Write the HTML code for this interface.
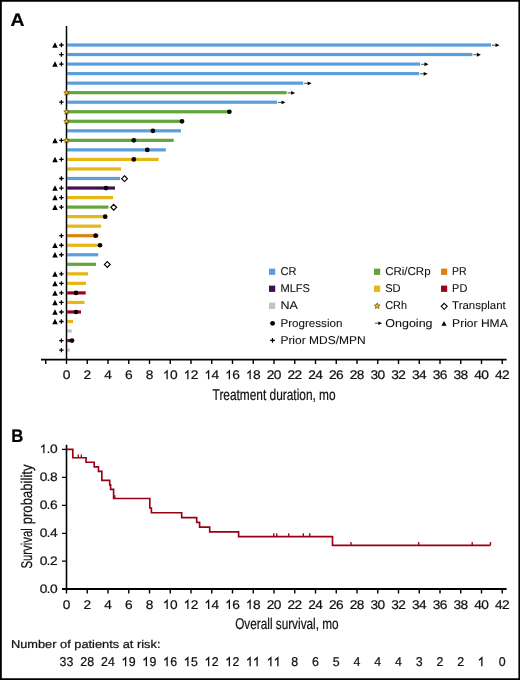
<!DOCTYPE html>
<html><head><meta charset="utf-8"><title>Figure</title>
<style>
html,body{margin:0;padding:0;background:#fff;}
body{width:520px;height:680px;overflow:hidden;font-family:"Liberation Sans",sans-serif;}
svg{display:block;will-change:transform;text-rendering:geometricPrecision;}
text{stroke:#111;stroke-width:0.22px;}
</style></head><body>
<svg width="520" height="680" viewBox="0 0 520 680" font-family="Liberation Sans, sans-serif">
<rect x="0" y="0" width="520" height="680" fill="#fff"/>
<text x="10.4" y="25.8" font-size="18.2" font-weight="bold" fill="#000" textLength="14.0" lengthAdjust="spacingAndGlyphs">A</text>
<text x="11.2" y="442.4" font-size="18.2" font-weight="bold" fill="#000" textLength="12.1" lengthAdjust="spacingAndGlyphs">B</text>
<rect x="67.20" y="43.40" width="423.80" height="3.20" fill="#5A9FDB"/>
<rect x="67.20" y="52.93" width="405.20" height="3.20" fill="#5A9FDB"/>
<rect x="67.20" y="62.47" width="352.80" height="3.20" fill="#5A9FDB"/>
<rect x="67.20" y="72.01" width="352.00" height="3.20" fill="#5A9FDB"/>
<rect x="67.20" y="81.54" width="236.00" height="3.20" fill="#5A9FDB"/>
<rect x="67.20" y="91.08" width="219.40" height="3.20" fill="#62A53A"/>
<rect x="67.20" y="100.61" width="209.80" height="3.20" fill="#5A9FDB"/>
<rect x="67.20" y="110.15" width="161.30" height="3.20" fill="#62A53A"/>
<rect x="67.20" y="119.68" width="114.30" height="3.20" fill="#62A53A"/>
<rect x="67.20" y="129.22" width="113.80" height="3.20" fill="#5A9FDB"/>
<rect x="67.20" y="138.75" width="106.50" height="3.20" fill="#62A53A"/>
<rect x="67.20" y="148.28" width="98.60" height="3.20" fill="#5A9FDB"/>
<rect x="67.20" y="157.82" width="91.40" height="3.20" fill="#E7B716"/>
<rect x="67.20" y="167.35" width="53.80" height="3.20" fill="#E7B716"/>
<rect x="67.20" y="176.89" width="52.80" height="3.20" fill="#5A9FDB"/>
<rect x="67.20" y="186.43" width="47.80" height="3.20" fill="#40104F"/>
<rect x="67.20" y="195.96" width="45.80" height="3.20" fill="#E7B716"/>
<rect x="67.20" y="205.50" width="41.30" height="3.20" fill="#62A53A"/>
<rect x="67.20" y="215.03" width="37.30" height="3.20" fill="#E7B716"/>
<rect x="67.20" y="224.56" width="33.80" height="3.20" fill="#E7B716"/>
<rect x="67.20" y="234.10" width="31.30" height="3.20" fill="#D8840F"/>
<rect x="67.20" y="243.64" width="32.30" height="3.20" fill="#E7B716"/>
<rect x="67.20" y="253.17" width="31.00" height="3.20" fill="#5A9FDB"/>
<rect x="67.20" y="262.70" width="28.80" height="3.20" fill="#62A53A"/>
<rect x="67.20" y="272.24" width="20.80" height="3.20" fill="#E7B716"/>
<rect x="67.20" y="281.77" width="18.80" height="3.20" fill="#E7B716"/>
<rect x="67.20" y="291.31" width="18.50" height="3.20" fill="#A0001F"/>
<rect x="67.20" y="300.84" width="17.30" height="3.20" fill="#E7B716"/>
<rect x="67.20" y="310.38" width="13.80" height="3.20" fill="#A0001F"/>
<rect x="67.20" y="319.91" width="5.80" height="3.20" fill="#E7B716"/>
<rect x="67.20" y="329.45" width="4.70" height="3.20" fill="#C4C2C8"/>
<rect x="67.20" y="338.98" width="2.80" height="3.20" fill="#A0001F"/>
<rect x="67.20" y="348.52" width="2.60" height="3.20" fill="#C4C2C8"/>
<path d="M66.5 26V359.65" stroke="#000" stroke-width="1.5"/>
<path d="M41 359.65H506.6" stroke="#000" stroke-width="1.8"/>
<path d="M45.75 359.65V364.1M66.50 359.65V364.1M87.25 359.65V364.1M108.00 359.65V364.1M128.75 359.65V364.1M149.50 359.65V364.1M170.25 359.65V364.1M191.00 359.65V364.1M211.75 359.65V364.1M232.50 359.65V364.1M253.25 359.65V364.1M274.00 359.65V364.1M294.75 359.65V364.1M315.50 359.65V364.1M336.25 359.65V364.1M357.00 359.65V364.1M377.75 359.65V364.1M398.50 359.65V364.1M419.25 359.65V364.1M440.00 359.65V364.1M460.75 359.65V364.1M481.50 359.65V364.1M502.25 359.65V364.1" stroke="#000" stroke-width="1.4"/>
<text x="66.50" y="379.30" font-size="12.5" text-anchor="middle" fill="#111" textLength="7.65" lengthAdjust="spacingAndGlyphs">0</text>
<text x="87.25" y="379.30" font-size="12.5" text-anchor="middle" fill="#111" textLength="7.65" lengthAdjust="spacingAndGlyphs">2</text>
<text x="108.00" y="379.30" font-size="12.5" text-anchor="middle" fill="#111" textLength="7.65" lengthAdjust="spacingAndGlyphs">4</text>
<text x="128.75" y="379.30" font-size="12.5" text-anchor="middle" fill="#111" textLength="7.65" lengthAdjust="spacingAndGlyphs">6</text>
<text x="149.50" y="379.30" font-size="12.5" text-anchor="middle" fill="#111" textLength="7.65" lengthAdjust="spacingAndGlyphs">8</text>
<path d="M164.30 373.38L167.11 370.98V379.30" fill="none" stroke="#111" stroke-width="1.27" stroke-linejoin="miter"/><text x="173.75" y="379.30" font-size="12.5" text-anchor="middle" fill="#111" textLength="7.65" lengthAdjust="spacingAndGlyphs">0</text>
<path d="M185.05 373.38L187.86 370.98V379.30" fill="none" stroke="#111" stroke-width="1.27" stroke-linejoin="miter"/><text x="194.50" y="379.30" font-size="12.5" text-anchor="middle" fill="#111" textLength="7.65" lengthAdjust="spacingAndGlyphs">2</text>
<path d="M205.80 373.38L208.61 370.98V379.30" fill="none" stroke="#111" stroke-width="1.27" stroke-linejoin="miter"/><text x="215.25" y="379.30" font-size="12.5" text-anchor="middle" fill="#111" textLength="7.65" lengthAdjust="spacingAndGlyphs">4</text>
<path d="M226.55 373.38L229.36 370.98V379.30" fill="none" stroke="#111" stroke-width="1.27" stroke-linejoin="miter"/><text x="236.00" y="379.30" font-size="12.5" text-anchor="middle" fill="#111" textLength="7.65" lengthAdjust="spacingAndGlyphs">6</text>
<path d="M247.30 373.38L250.11 370.98V379.30" fill="none" stroke="#111" stroke-width="1.27" stroke-linejoin="miter"/><text x="256.75" y="379.30" font-size="12.5" text-anchor="middle" fill="#111" textLength="7.65" lengthAdjust="spacingAndGlyphs">8</text>
<text x="270.50" y="379.30" font-size="12.5" text-anchor="middle" fill="#111" textLength="7.65" lengthAdjust="spacingAndGlyphs">2</text><text x="277.50" y="379.30" font-size="12.5" text-anchor="middle" fill="#111" textLength="7.65" lengthAdjust="spacingAndGlyphs">0</text>
<text x="291.25" y="379.30" font-size="12.5" text-anchor="middle" fill="#111" textLength="7.65" lengthAdjust="spacingAndGlyphs">2</text><text x="298.25" y="379.30" font-size="12.5" text-anchor="middle" fill="#111" textLength="7.65" lengthAdjust="spacingAndGlyphs">2</text>
<text x="312.00" y="379.30" font-size="12.5" text-anchor="middle" fill="#111" textLength="7.65" lengthAdjust="spacingAndGlyphs">2</text><text x="319.00" y="379.30" font-size="12.5" text-anchor="middle" fill="#111" textLength="7.65" lengthAdjust="spacingAndGlyphs">4</text>
<text x="332.75" y="379.30" font-size="12.5" text-anchor="middle" fill="#111" textLength="7.65" lengthAdjust="spacingAndGlyphs">2</text><text x="339.75" y="379.30" font-size="12.5" text-anchor="middle" fill="#111" textLength="7.65" lengthAdjust="spacingAndGlyphs">6</text>
<text x="353.50" y="379.30" font-size="12.5" text-anchor="middle" fill="#111" textLength="7.65" lengthAdjust="spacingAndGlyphs">2</text><text x="360.50" y="379.30" font-size="12.5" text-anchor="middle" fill="#111" textLength="7.65" lengthAdjust="spacingAndGlyphs">8</text>
<text x="374.25" y="379.30" font-size="12.5" text-anchor="middle" fill="#111" textLength="7.65" lengthAdjust="spacingAndGlyphs">3</text><text x="381.25" y="379.30" font-size="12.5" text-anchor="middle" fill="#111" textLength="7.65" lengthAdjust="spacingAndGlyphs">0</text>
<text x="395.00" y="379.30" font-size="12.5" text-anchor="middle" fill="#111" textLength="7.65" lengthAdjust="spacingAndGlyphs">3</text><text x="402.00" y="379.30" font-size="12.5" text-anchor="middle" fill="#111" textLength="7.65" lengthAdjust="spacingAndGlyphs">2</text>
<text x="415.75" y="379.30" font-size="12.5" text-anchor="middle" fill="#111" textLength="7.65" lengthAdjust="spacingAndGlyphs">3</text><text x="422.75" y="379.30" font-size="12.5" text-anchor="middle" fill="#111" textLength="7.65" lengthAdjust="spacingAndGlyphs">4</text>
<text x="436.50" y="379.30" font-size="12.5" text-anchor="middle" fill="#111" textLength="7.65" lengthAdjust="spacingAndGlyphs">3</text><text x="443.50" y="379.30" font-size="12.5" text-anchor="middle" fill="#111" textLength="7.65" lengthAdjust="spacingAndGlyphs">6</text>
<text x="457.25" y="379.30" font-size="12.5" text-anchor="middle" fill="#111" textLength="7.65" lengthAdjust="spacingAndGlyphs">3</text><text x="464.25" y="379.30" font-size="12.5" text-anchor="middle" fill="#111" textLength="7.65" lengthAdjust="spacingAndGlyphs">8</text>
<text x="478.00" y="379.30" font-size="12.5" text-anchor="middle" fill="#111" textLength="7.65" lengthAdjust="spacingAndGlyphs">4</text><text x="485.00" y="379.30" font-size="12.5" text-anchor="middle" fill="#111" textLength="7.65" lengthAdjust="spacingAndGlyphs">0</text>
<text x="498.75" y="379.30" font-size="12.5" text-anchor="middle" fill="#111" textLength="7.65" lengthAdjust="spacingAndGlyphs">4</text><text x="505.75" y="379.30" font-size="12.5" text-anchor="middle" fill="#111" textLength="7.65" lengthAdjust="spacingAndGlyphs">2</text>
<text x="212.6" y="399.8" font-size="15.5" fill="#111" textLength="123" lengthAdjust="spacingAndGlyphs">Treatment duration, mo</text>
<path d="M491.90 45.20H496.00" stroke="#333" stroke-width="0.85"/><polygon points="495.50,43.30 499.50,45.20 495.50,47.10" fill="#000"/>
<path d="M59.20 45.00H63.60M61.40 42.80V47.20" stroke="#000" stroke-width="1.3"/>
<polygon points="52.25,47.80 57.75,47.80 55.00,42.30" fill="#000"/>
<path d="M473.30 54.73H477.40" stroke="#333" stroke-width="0.85"/><polygon points="476.90,52.84 480.90,54.73 476.90,56.63" fill="#000"/>
<path d="M59.20 54.53H63.60M61.40 52.33V56.73" stroke="#000" stroke-width="1.3"/>
<path d="M420.90 64.27H425.00" stroke="#333" stroke-width="0.85"/><polygon points="424.50,62.37 428.50,64.27 424.50,66.17" fill="#000"/>
<path d="M59.20 64.07H63.60M61.40 61.87V66.27" stroke="#000" stroke-width="1.3"/>
<polygon points="52.25,66.87 57.75,66.87 55.00,61.37" fill="#000"/>
<path d="M420.10 73.81H424.20" stroke="#333" stroke-width="0.85"/><polygon points="423.70,71.91 427.70,73.81 423.70,75.71" fill="#000"/>
<path d="M304.10 83.34H308.20" stroke="#333" stroke-width="0.85"/><polygon points="307.70,81.44 311.70,83.34 307.70,85.24" fill="#000"/>
<path d="M287.50 92.88H291.60" stroke="#333" stroke-width="0.85"/><polygon points="291.10,90.97 295.10,92.88 291.10,94.78" fill="#000"/>
<polygon points="66.50,90.08 67.24,91.86 69.16,92.01 67.70,93.26 68.15,95.14 66.50,94.14 64.85,95.14 65.30,93.26 63.84,92.01 65.76,91.86" fill="#F7C400" stroke="#5a3c00" stroke-width="0.65" stroke-linejoin="round"/>
<path d="M277.90 102.41H282.00" stroke="#333" stroke-width="0.85"/><polygon points="281.50,100.51 285.50,102.41 281.50,104.31" fill="#000"/>
<path d="M59.20 102.21H63.60M61.40 100.01V104.41" stroke="#000" stroke-width="1.3"/>
<circle cx="229.40" cy="111.75" r="2.35" fill="#000"/>
<polygon points="66.50,109.15 67.24,110.93 69.16,111.08 67.70,112.33 68.15,114.21 66.50,113.21 64.85,114.21 65.30,112.33 63.84,111.08 65.76,110.93" fill="#F7C400" stroke="#5a3c00" stroke-width="0.65" stroke-linejoin="round"/>
<circle cx="182.00" cy="121.28" r="2.35" fill="#000"/>
<polygon points="66.50,118.68 67.24,120.46 69.16,120.61 67.70,121.87 68.15,123.75 66.50,122.74 64.85,123.75 65.30,121.87 63.84,120.61 65.76,120.46" fill="#F7C400" stroke="#5a3c00" stroke-width="0.65" stroke-linejoin="round"/>
<circle cx="152.90" cy="130.81" r="2.35" fill="#000"/>
<circle cx="133.80" cy="140.35" r="2.35" fill="#000"/>
<path d="M59.20 140.35H63.60M61.40 138.15V142.55" stroke="#000" stroke-width="1.3"/>
<polygon points="52.25,143.15 57.75,143.15 55.00,137.65" fill="#000"/>
<polygon points="66.50,137.75 67.24,139.53 69.16,139.68 67.70,140.94 68.15,142.82 66.50,141.81 64.85,142.82 65.30,140.94 63.84,139.68 65.76,139.53" fill="#F7C400" stroke="#5a3c00" stroke-width="0.65" stroke-linejoin="round"/>
<circle cx="147.30" cy="149.88" r="2.35" fill="#000"/>
<circle cx="133.80" cy="159.42" r="2.35" fill="#000"/>
<path d="M59.20 159.42H63.60M61.40 157.22V161.62" stroke="#000" stroke-width="1.3"/>
<polygon points="52.25,162.22 57.75,162.22 55.00,156.72" fill="#000"/>
<polygon points="124.50,175.74 127.40,178.64 124.50,181.54 121.60,178.64" fill="#fff" stroke="#000" stroke-width="1.15"/>
<path d="M59.20 178.49H63.60M61.40 176.29V180.69" stroke="#000" stroke-width="1.3"/>
<circle cx="106.00" cy="188.03" r="2.35" fill="#000"/>
<path d="M59.20 188.03H63.60M61.40 185.83V190.22" stroke="#000" stroke-width="1.3"/>
<polygon points="52.25,190.83 57.75,190.83 55.00,185.33" fill="#000"/>
<path d="M59.20 197.56H63.60M61.40 195.36V199.76" stroke="#000" stroke-width="1.3"/>
<polygon points="52.25,200.36 57.75,200.36 55.00,194.86" fill="#000"/>
<polygon points="113.70,204.34 116.60,207.25 113.70,210.15 110.80,207.25" fill="#fff" stroke="#000" stroke-width="1.15"/>
<path d="M59.20 207.09H63.60M61.40 204.90V209.29" stroke="#000" stroke-width="1.3"/>
<polygon points="52.25,209.90 57.75,209.90 55.00,204.40" fill="#000"/>
<circle cx="105.20" cy="216.63" r="2.35" fill="#000"/>
<circle cx="95.60" cy="235.70" r="2.35" fill="#000"/>
<path d="M59.20 235.70H63.60M61.40 233.50V237.90" stroke="#000" stroke-width="1.3"/>
<circle cx="100.00" cy="245.24" r="2.35" fill="#000"/>
<path d="M59.20 245.24H63.60M61.40 243.04V247.44" stroke="#000" stroke-width="1.3"/>
<polygon points="52.25,248.04 57.75,248.04 55.00,242.54" fill="#000"/>
<path d="M59.20 254.77H63.60M61.40 252.57V256.97" stroke="#000" stroke-width="1.3"/>
<polygon points="52.25,257.57 57.75,257.57 55.00,252.07" fill="#000"/>
<polygon points="107.30,261.56 110.20,264.45 107.30,267.35 104.40,264.45" fill="#fff" stroke="#000" stroke-width="1.15"/>
<path d="M59.20 273.84H63.60M61.40 271.64V276.04" stroke="#000" stroke-width="1.3"/>
<polygon points="52.25,276.64 57.75,276.64 55.00,271.14" fill="#000"/>
<path d="M59.20 283.38H63.60M61.40 281.18V285.57" stroke="#000" stroke-width="1.3"/>
<polygon points="52.25,286.18 57.75,286.18 55.00,280.68" fill="#000"/>
<circle cx="76.00" cy="292.91" r="2.35" fill="#000"/>
<path d="M59.20 292.91H63.60M61.40 290.71V295.11" stroke="#000" stroke-width="1.3"/>
<polygon points="52.25,295.71 57.75,295.71 55.00,290.21" fill="#000"/>
<path d="M59.20 302.44H63.60M61.40 300.25V304.64" stroke="#000" stroke-width="1.3"/>
<polygon points="52.25,305.25 57.75,305.25 55.00,299.75" fill="#000"/>
<circle cx="76.00" cy="311.98" r="2.35" fill="#000"/>
<path d="M59.20 311.98H63.60M61.40 309.78V314.18" stroke="#000" stroke-width="1.3"/>
<polygon points="52.25,314.78 57.75,314.78 55.00,309.28" fill="#000"/>
<path d="M59.20 321.51H63.60M61.40 319.31V323.71" stroke="#000" stroke-width="1.3"/>
<polygon points="52.25,324.31 57.75,324.31 55.00,318.81" fill="#000"/>
<circle cx="72.00" cy="340.58" r="2.35" fill="#000"/>
<path d="M59.20 340.58H63.60M61.40 338.38V342.78" stroke="#000" stroke-width="1.3"/>
<path d="M59.20 350.12H63.60M61.40 347.92V352.32" stroke="#000" stroke-width="1.3"/>
<rect x="269.00" y="268.60" width="6.2" height="6.3" fill="#5A9FDB"/>
<text x="280.40" y="275.20" font-size="11.3" fill="#111" style="stroke-width:0.08px" textLength="16.0" lengthAdjust="spacingAndGlyphs">CR</text>
<rect x="269.00" y="285.60" width="6.2" height="6.3" fill="#40104F"/>
<text x="280.40" y="292.20" font-size="11.3" fill="#111" style="stroke-width:0.08px" textLength="29.6" lengthAdjust="spacingAndGlyphs">MLFS</text>
<rect x="269.00" y="302.70" width="6.2" height="6.3" fill="#C4C2C8"/>
<text x="280.40" y="309.30" font-size="11.3" fill="#111" style="stroke-width:0.08px" textLength="17.4" lengthAdjust="spacingAndGlyphs">NA</text>
<circle cx="272.60" cy="323.30" r="2.4" fill="#000"/>
<text x="280.40" y="326.50" font-size="11.3" fill="#111" style="stroke-width:0.08px" textLength="62.0" lengthAdjust="spacingAndGlyphs">Progression</text>
<path d="M270.10 340.40H274.90M272.50 338.00V342.80" stroke="#000" stroke-width="1.3"/>
<text x="280.40" y="343.60" font-size="11.3" fill="#111" style="stroke-width:0.08px" textLength="85.2" lengthAdjust="spacingAndGlyphs">Prior MDS/MPN</text>
<rect x="374.00" y="268.60" width="6.2" height="6.3" fill="#62A53A"/>
<text x="385.20" y="275.20" font-size="11.3" fill="#111" style="stroke-width:0.08px" textLength="45.4" lengthAdjust="spacingAndGlyphs">CRi/CRp</text>
<rect x="374.00" y="285.60" width="6.2" height="6.3" fill="#E7B716"/>
<text x="385.20" y="292.20" font-size="11.3" fill="#111" style="stroke-width:0.08px" textLength="15.4" lengthAdjust="spacingAndGlyphs">SD</text>
<polygon points="377.20,302.90 378.02,304.87 380.15,305.04 378.53,306.43 379.02,308.51 377.20,307.39 375.38,308.51 375.87,306.43 374.25,305.04 376.38,304.87" fill="#F7C400" stroke="#5a3c00" stroke-width="0.65" stroke-linejoin="round"/>
<text x="385.20" y="309.30" font-size="11.3" fill="#111" style="stroke-width:0.08px" textLength="21.8" lengthAdjust="spacingAndGlyphs">CRh</text>
<path d="M374.90 323.20H378.80" stroke="#333" stroke-width="0.85"/><polygon points="378.30,321.50 382.10,323.20 378.30,324.90" fill="#000"/>
<text x="385.20" y="326.50" font-size="11.3" fill="#111" style="stroke-width:0.08px" textLength="47.4" lengthAdjust="spacingAndGlyphs">Ongoing</text>
<rect x="441.00" y="268.60" width="6.2" height="6.3" fill="#D8840F"/>
<text x="452.10" y="275.20" font-size="11.3" fill="#111" style="stroke-width:0.08px" textLength="14.6" lengthAdjust="spacingAndGlyphs">PR</text>
<rect x="441.00" y="285.60" width="6.2" height="6.3" fill="#A0001F"/>
<text x="452.10" y="292.20" font-size="11.3" fill="#111" style="stroke-width:0.08px" textLength="15.2" lengthAdjust="spacingAndGlyphs">PD</text>
<polygon points="444.20,303.30 447.20,306.30 444.20,309.30 441.20,306.30" fill="#fff" stroke="#000" stroke-width="1.1"/>
<text x="452.10" y="309.30" font-size="11.3" fill="#111" style="stroke-width:0.08px" textLength="53.6" lengthAdjust="spacingAndGlyphs">Transplant</text>
<polygon points="441.40,325.70 446.60,325.70 444.00,320.90" fill="#000"/>
<text x="452.10" y="326.50" font-size="11.3" fill="#111" style="stroke-width:0.08px" textLength="55.6" lengthAdjust="spacingAndGlyphs">Prior HMA</text>
<path d="M66.5 444.8V589" stroke="#000" stroke-width="1.6"/>
<path d="M62 589.0H506.6" stroke="#000" stroke-width="1.8"/>
<path d="M62 589.15H66.5M62 561.21H66.5M62 533.27H66.5M62 505.33H66.5M62 477.39H66.5M62 449.45H66.5" stroke="#000" stroke-width="1.25"/>
<path d="M66.50 589V593.6M87.25 589V593.6M108.00 589V593.6M128.75 589V593.6M149.50 589V593.6M170.25 589V593.6M191.00 589V593.6M211.75 589V593.6M232.50 589V593.6M253.25 589V593.6M274.00 589V593.6M294.75 589V593.6M315.50 589V593.6M336.25 589V593.6M357.00 589V593.6M377.75 589V593.6M398.50 589V593.6M419.25 589V593.6M440.00 589V593.6M460.75 589V593.6M481.50 589V593.6M502.25 589V593.6" stroke="#000" stroke-width="1.4"/>
<text x="43.50" y="592.90" font-size="12.3" text-anchor="middle" fill="#111" textLength="7.66" lengthAdjust="spacingAndGlyphs">0</text><text x="48.4" y="592.90" font-size="12.5" text-anchor="middle" fill="#111">.</text><text x="53.90" y="592.90" font-size="12.3" text-anchor="middle" fill="#111" textLength="7.66" lengthAdjust="spacingAndGlyphs">0</text>
<text x="43.50" y="564.96" font-size="12.3" text-anchor="middle" fill="#111" textLength="7.66" lengthAdjust="spacingAndGlyphs">0</text><text x="48.4" y="564.96" font-size="12.5" text-anchor="middle" fill="#111">.</text><text x="53.90" y="564.96" font-size="12.3" text-anchor="middle" fill="#111" textLength="7.66" lengthAdjust="spacingAndGlyphs">2</text>
<text x="43.50" y="537.02" font-size="12.3" text-anchor="middle" fill="#111" textLength="7.66" lengthAdjust="spacingAndGlyphs">0</text><text x="48.4" y="537.02" font-size="12.5" text-anchor="middle" fill="#111">.</text><text x="53.90" y="537.02" font-size="12.3" text-anchor="middle" fill="#111" textLength="7.66" lengthAdjust="spacingAndGlyphs">4</text>
<text x="43.50" y="509.08" font-size="12.3" text-anchor="middle" fill="#111" textLength="7.66" lengthAdjust="spacingAndGlyphs">0</text><text x="48.4" y="509.08" font-size="12.5" text-anchor="middle" fill="#111">.</text><text x="53.90" y="509.08" font-size="12.3" text-anchor="middle" fill="#111" textLength="7.66" lengthAdjust="spacingAndGlyphs">6</text>
<text x="43.50" y="481.14" font-size="12.3" text-anchor="middle" fill="#111" textLength="7.66" lengthAdjust="spacingAndGlyphs">0</text><text x="48.4" y="481.14" font-size="12.5" text-anchor="middle" fill="#111">.</text><text x="53.90" y="481.14" font-size="12.3" text-anchor="middle" fill="#111" textLength="7.66" lengthAdjust="spacingAndGlyphs">8</text>
<path d="M41.09 447.38L43.86 445.01V453.20" fill="none" stroke="#111" stroke-width="1.25" stroke-linejoin="miter"/><text x="48.4" y="453.20" font-size="12.5" text-anchor="middle" fill="#111">.</text><text x="53.90" y="453.20" font-size="12.3" text-anchor="middle" fill="#111" textLength="7.66" lengthAdjust="spacingAndGlyphs">0</text>
<text x="66.50" y="608.90" font-size="12.7" text-anchor="middle" fill="#111" textLength="7.63" lengthAdjust="spacingAndGlyphs">0</text>
<text x="87.25" y="608.90" font-size="12.7" text-anchor="middle" fill="#111" textLength="7.63" lengthAdjust="spacingAndGlyphs">2</text>
<text x="108.00" y="608.90" font-size="12.7" text-anchor="middle" fill="#111" textLength="7.63" lengthAdjust="spacingAndGlyphs">4</text>
<text x="128.75" y="608.90" font-size="12.7" text-anchor="middle" fill="#111" textLength="7.63" lengthAdjust="spacingAndGlyphs">6</text>
<text x="149.50" y="608.90" font-size="12.7" text-anchor="middle" fill="#111" textLength="7.63" lengthAdjust="spacingAndGlyphs">8</text>
<path d="M164.26 602.89L167.12 600.44V608.90" fill="none" stroke="#111" stroke-width="1.29" stroke-linejoin="miter"/><text x="173.75" y="608.90" font-size="12.7" text-anchor="middle" fill="#111" textLength="7.63" lengthAdjust="spacingAndGlyphs">0</text>
<path d="M185.01 602.89L187.87 600.44V608.90" fill="none" stroke="#111" stroke-width="1.29" stroke-linejoin="miter"/><text x="194.50" y="608.90" font-size="12.7" text-anchor="middle" fill="#111" textLength="7.63" lengthAdjust="spacingAndGlyphs">2</text>
<path d="M205.76 602.89L208.62 600.44V608.90" fill="none" stroke="#111" stroke-width="1.29" stroke-linejoin="miter"/><text x="215.25" y="608.90" font-size="12.7" text-anchor="middle" fill="#111" textLength="7.63" lengthAdjust="spacingAndGlyphs">4</text>
<path d="M226.51 602.89L229.37 600.44V608.90" fill="none" stroke="#111" stroke-width="1.29" stroke-linejoin="miter"/><text x="236.00" y="608.90" font-size="12.7" text-anchor="middle" fill="#111" textLength="7.63" lengthAdjust="spacingAndGlyphs">6</text>
<path d="M247.26 602.89L250.12 600.44V608.90" fill="none" stroke="#111" stroke-width="1.29" stroke-linejoin="miter"/><text x="256.75" y="608.90" font-size="12.7" text-anchor="middle" fill="#111" textLength="7.63" lengthAdjust="spacingAndGlyphs">8</text>
<text x="270.50" y="608.90" font-size="12.7" text-anchor="middle" fill="#111" textLength="7.63" lengthAdjust="spacingAndGlyphs">2</text><text x="277.50" y="608.90" font-size="12.7" text-anchor="middle" fill="#111" textLength="7.63" lengthAdjust="spacingAndGlyphs">0</text>
<text x="291.25" y="608.90" font-size="12.7" text-anchor="middle" fill="#111" textLength="7.63" lengthAdjust="spacingAndGlyphs">2</text><text x="298.25" y="608.90" font-size="12.7" text-anchor="middle" fill="#111" textLength="7.63" lengthAdjust="spacingAndGlyphs">2</text>
<text x="312.00" y="608.90" font-size="12.7" text-anchor="middle" fill="#111" textLength="7.63" lengthAdjust="spacingAndGlyphs">2</text><text x="319.00" y="608.90" font-size="12.7" text-anchor="middle" fill="#111" textLength="7.63" lengthAdjust="spacingAndGlyphs">4</text>
<text x="332.75" y="608.90" font-size="12.7" text-anchor="middle" fill="#111" textLength="7.63" lengthAdjust="spacingAndGlyphs">2</text><text x="339.75" y="608.90" font-size="12.7" text-anchor="middle" fill="#111" textLength="7.63" lengthAdjust="spacingAndGlyphs">6</text>
<text x="353.50" y="608.90" font-size="12.7" text-anchor="middle" fill="#111" textLength="7.63" lengthAdjust="spacingAndGlyphs">2</text><text x="360.50" y="608.90" font-size="12.7" text-anchor="middle" fill="#111" textLength="7.63" lengthAdjust="spacingAndGlyphs">8</text>
<text x="374.25" y="608.90" font-size="12.7" text-anchor="middle" fill="#111" textLength="7.63" lengthAdjust="spacingAndGlyphs">3</text><text x="381.25" y="608.90" font-size="12.7" text-anchor="middle" fill="#111" textLength="7.63" lengthAdjust="spacingAndGlyphs">0</text>
<text x="395.00" y="608.90" font-size="12.7" text-anchor="middle" fill="#111" textLength="7.63" lengthAdjust="spacingAndGlyphs">3</text><text x="402.00" y="608.90" font-size="12.7" text-anchor="middle" fill="#111" textLength="7.63" lengthAdjust="spacingAndGlyphs">2</text>
<text x="415.75" y="608.90" font-size="12.7" text-anchor="middle" fill="#111" textLength="7.63" lengthAdjust="spacingAndGlyphs">3</text><text x="422.75" y="608.90" font-size="12.7" text-anchor="middle" fill="#111" textLength="7.63" lengthAdjust="spacingAndGlyphs">4</text>
<text x="436.50" y="608.90" font-size="12.7" text-anchor="middle" fill="#111" textLength="7.63" lengthAdjust="spacingAndGlyphs">3</text><text x="443.50" y="608.90" font-size="12.7" text-anchor="middle" fill="#111" textLength="7.63" lengthAdjust="spacingAndGlyphs">6</text>
<text x="457.25" y="608.90" font-size="12.7" text-anchor="middle" fill="#111" textLength="7.63" lengthAdjust="spacingAndGlyphs">3</text><text x="464.25" y="608.90" font-size="12.7" text-anchor="middle" fill="#111" textLength="7.63" lengthAdjust="spacingAndGlyphs">8</text>
<text x="478.00" y="608.90" font-size="12.7" text-anchor="middle" fill="#111" textLength="7.63" lengthAdjust="spacingAndGlyphs">4</text><text x="485.00" y="608.90" font-size="12.7" text-anchor="middle" fill="#111" textLength="7.63" lengthAdjust="spacingAndGlyphs">0</text>
<text x="498.75" y="608.90" font-size="12.7" text-anchor="middle" fill="#111" textLength="7.63" lengthAdjust="spacingAndGlyphs">4</text><text x="505.75" y="608.90" font-size="12.7" text-anchor="middle" fill="#111" textLength="7.63" lengthAdjust="spacingAndGlyphs">2</text>
<text x="235.2" y="629.4" font-size="15.5" fill="#111" textLength="103.4" lengthAdjust="spacingAndGlyphs">Overall survival, mo</text>
<text transform="translate(31.6 568.6) rotate(-90)" x="0" y="0" font-size="15.5" fill="#111" textLength="40.4" lengthAdjust="spacingAndGlyphs">Survival</text>
<text transform="translate(31.6 524.3) rotate(-90)" x="0" y="0" font-size="15.5" fill="#111" textLength="59.8" lengthAdjust="spacingAndGlyphs">probability</text>
<path d="M66.50 449.30 L72.80 449.30 L72.80 457.77 L86.05 457.77 L86.05 462.29 L94.20 462.29 L94.20 466.82 L98.45 466.82 L98.45 471.34 L101.85 471.34 L101.85 480.39 L109.70 480.39 L109.70 484.92 L110.60 484.92 L110.60 489.44 L113.60 489.44 L113.60 498.49 L149.80 498.49 L149.80 508.02 L151.40 508.02 L151.40 512.78 L181.70 512.78 L181.70 517.55 L196.70 517.55 L196.70 522.31 L199.60 522.31 L199.60 527.08 L209.70 527.08 L209.70 531.84 L238.60 531.84 L238.60 536.60 L332.50 536.60 L332.50 545.33 L490.50 545.33" fill="none" stroke="#990014" stroke-width="1.65" stroke-linejoin="miter"/>
<path d="M78.30 457.77V454.47M81.35 457.77V454.47M114.80 498.49V495.19M273.75 536.60V533.30M276.75 536.60V533.30M288.75 536.60V533.30M303.30 536.60V533.30M309.75 536.60V533.30M351.00 545.33V542.03M418.70 545.33V542.03M472.20 545.33V542.03M490.50 545.33V542.03" stroke="#990014" stroke-width="1.3"/>
<text x="10.9" y="647.6" font-size="11.4" fill="#111" textLength="149.6" lengthAdjust="spacingAndGlyphs">Number of patients at risk:</text>
<text x="63.00" y="666.20" font-size="12.8" text-anchor="middle" fill="#111" textLength="6.90" lengthAdjust="spacingAndGlyphs">3</text><text x="70.00" y="666.20" font-size="12.8" text-anchor="middle" fill="#111" textLength="6.90" lengthAdjust="spacingAndGlyphs">3</text>
<text x="83.75" y="666.20" font-size="12.8" text-anchor="middle" fill="#111" textLength="6.90" lengthAdjust="spacingAndGlyphs">2</text><text x="90.75" y="666.20" font-size="12.8" text-anchor="middle" fill="#111" textLength="6.90" lengthAdjust="spacingAndGlyphs">8</text>
<text x="104.50" y="666.20" font-size="12.8" text-anchor="middle" fill="#111" textLength="6.90" lengthAdjust="spacingAndGlyphs">2</text><text x="111.50" y="666.20" font-size="12.8" text-anchor="middle" fill="#111" textLength="6.90" lengthAdjust="spacingAndGlyphs">4</text>
<path d="M122.74 660.14L125.62 657.67V666.20" fill="none" stroke="#111" stroke-width="1.30" stroke-linejoin="miter"/><text x="132.25" y="666.20" font-size="12.8" text-anchor="middle" fill="#111" textLength="6.90" lengthAdjust="spacingAndGlyphs">9</text>
<path d="M143.49 660.14L146.37 657.67V666.20" fill="none" stroke="#111" stroke-width="1.30" stroke-linejoin="miter"/><text x="153.00" y="666.20" font-size="12.8" text-anchor="middle" fill="#111" textLength="6.90" lengthAdjust="spacingAndGlyphs">9</text>
<path d="M164.24 660.14L167.12 657.67V666.20" fill="none" stroke="#111" stroke-width="1.30" stroke-linejoin="miter"/><text x="173.75" y="666.20" font-size="12.8" text-anchor="middle" fill="#111" textLength="6.90" lengthAdjust="spacingAndGlyphs">6</text>
<path d="M184.99 660.14L187.87 657.67V666.20" fill="none" stroke="#111" stroke-width="1.30" stroke-linejoin="miter"/><text x="194.50" y="666.20" font-size="12.8" text-anchor="middle" fill="#111" textLength="6.90" lengthAdjust="spacingAndGlyphs">5</text>
<path d="M205.74 660.14L208.62 657.67V666.20" fill="none" stroke="#111" stroke-width="1.30" stroke-linejoin="miter"/><text x="215.25" y="666.20" font-size="12.8" text-anchor="middle" fill="#111" textLength="6.90" lengthAdjust="spacingAndGlyphs">2</text>
<path d="M226.49 660.14L229.37 657.67V666.20" fill="none" stroke="#111" stroke-width="1.30" stroke-linejoin="miter"/><text x="236.00" y="666.20" font-size="12.8" text-anchor="middle" fill="#111" textLength="6.90" lengthAdjust="spacingAndGlyphs">2</text>
<path d="M247.24 660.14L250.12 657.67V666.20" fill="none" stroke="#111" stroke-width="1.30" stroke-linejoin="miter"/><path d="M254.24 660.14L257.12 657.67V666.20" fill="none" stroke="#111" stroke-width="1.30" stroke-linejoin="miter"/>
<path d="M267.99 660.14L270.87 657.67V666.20" fill="none" stroke="#111" stroke-width="1.30" stroke-linejoin="miter"/><path d="M274.99 660.14L277.87 657.67V666.20" fill="none" stroke="#111" stroke-width="1.30" stroke-linejoin="miter"/>
<text x="294.75" y="666.20" font-size="12.8" text-anchor="middle" fill="#111" textLength="6.90" lengthAdjust="spacingAndGlyphs">8</text>
<text x="315.50" y="666.20" font-size="12.8" text-anchor="middle" fill="#111" textLength="6.90" lengthAdjust="spacingAndGlyphs">6</text>
<text x="336.25" y="666.20" font-size="12.8" text-anchor="middle" fill="#111" textLength="6.90" lengthAdjust="spacingAndGlyphs">5</text>
<text x="357.00" y="666.20" font-size="12.8" text-anchor="middle" fill="#111" textLength="6.90" lengthAdjust="spacingAndGlyphs">4</text>
<text x="377.75" y="666.20" font-size="12.8" text-anchor="middle" fill="#111" textLength="6.90" lengthAdjust="spacingAndGlyphs">4</text>
<text x="398.50" y="666.20" font-size="12.8" text-anchor="middle" fill="#111" textLength="6.90" lengthAdjust="spacingAndGlyphs">4</text>
<text x="419.25" y="666.20" font-size="12.8" text-anchor="middle" fill="#111" textLength="6.90" lengthAdjust="spacingAndGlyphs">3</text>
<text x="440.00" y="666.20" font-size="12.8" text-anchor="middle" fill="#111" textLength="6.90" lengthAdjust="spacingAndGlyphs">2</text>
<text x="460.75" y="666.20" font-size="12.8" text-anchor="middle" fill="#111" textLength="6.90" lengthAdjust="spacingAndGlyphs">2</text>
<path d="M478.99 660.14L481.87 657.67V666.20" fill="none" stroke="#111" stroke-width="1.30" stroke-linejoin="miter"/>
<text x="502.25" y="666.20" font-size="12.8" text-anchor="middle" fill="#111" textLength="6.90" lengthAdjust="spacingAndGlyphs">0</text>
<path d="M0 0H520V680H0Z M1.8 1.75V678.2H518.4V1.75Z" fill="#000" fill-rule="evenodd"/>
</svg>
</body></html>
